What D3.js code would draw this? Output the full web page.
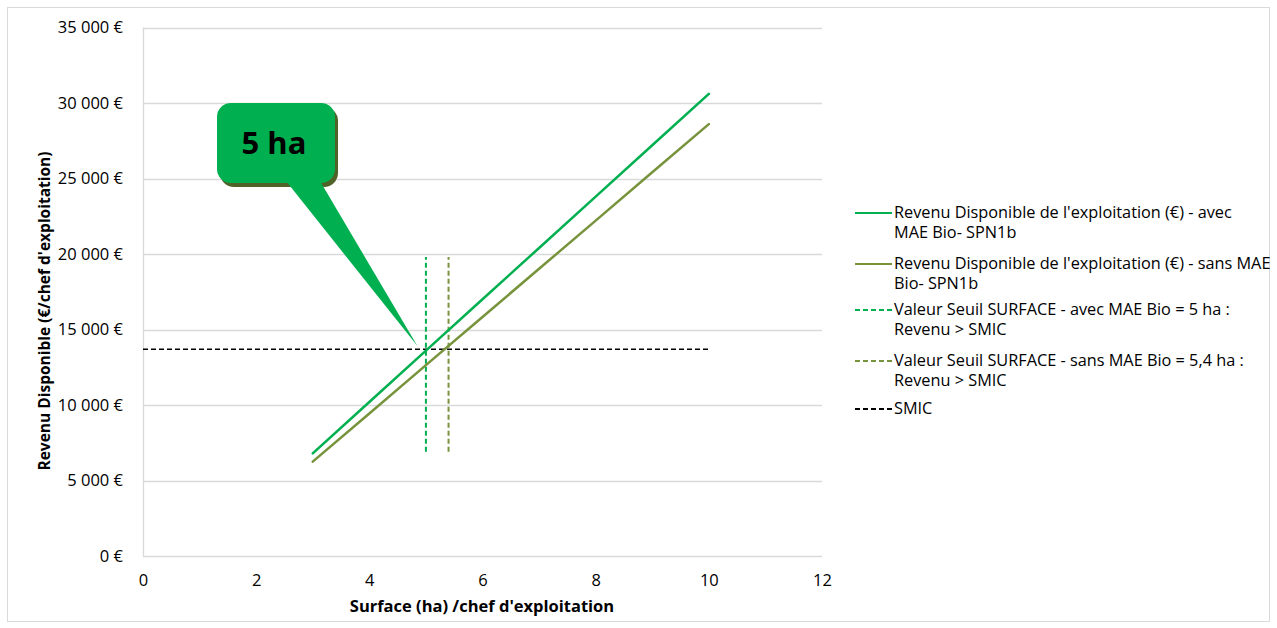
<!DOCTYPE html>
<html><head><meta charset="utf-8">
<script src="https://cdn.jsdelivr.net/npm/d3@7"></script>
<style>
body{margin:0;background:#fff;}
svg text{font-family:"Open Sans","Noto Sans",sans-serif;}
</style></head>
<body><svg id="c" width="1277" height="628"></svg>
<script>
const surfaces = [3,4,5,6,7,8,9,10];
const revenuAvec = [6800,10200,13600,17000,20400,23800,27200,30600];
const revenuSans = [6250,9440,12640,15830,19020,22210,25410,28600];
const seuilAvec = [{x:5,y:6900},{x:5,y:19800}];
const seuilSans = [{x:5.4,y:6900},{x:5.4,y:19800}];
const smic = [{x:0,y:13700},{x:10,y:13700}];
const xTicks = [0,2,4,6,8,10,12];
const yTicks = [0,5000,10000,15000,20000,25000,30000,35000];
const legendLabels = [
 ["Revenu Disponible de l'exploitation (€) - avec","MAE Bio- SPN1b"],
 ["Revenu Disponible de l'exploitation (€) - sans MAE","Bio- SPN1b"],
 ["Valeur Seuil SURFACE - avec MAE Bio = 5 ha :","Revenu > SMIC"],
 ["Valeur Seuil SURFACE - sans MAE Bio = 5,4 ha :","Revenu > SMIC"],
 ["SMIC"]
];
const callout = {label:"5 ha", x:4.85, y:13900};

const svg = d3.select("#c");
svg.append("rect").attr("x",7.5).attr("y",7.5).attr("width",1262).attr("height",614)
  .attr("fill","#fff").attr("stroke","#d9d9d9");

const x = d3.scaleLinear().domain([0,12]).range([143,822]);
const y = d3.scaleLinear().domain([0,35000]).range([556,27.5]);

svg.append("g").selectAll("line").data(yTicks).join("line")
  .attr("x1",x(0)).attr("x2",x(12)).attr("y1",d=>Math.round(y(d))+0.5).attr("y2",d=>Math.round(y(d))+0.5)
  .attr("stroke","#d9d9d9").attr("stroke-width",1.3);
svg.append("line").attr("x1",x(0)+0.5).attr("x2",x(0)+0.5).attr("y1",y(35000)).attr("y2",y(0))
  .attr("stroke","#d9d9d9").attr("stroke-width",1.3);

const fmt = d => d3.format(",")(d).replace(/,/g," ") + " €";
const ya = svg.append("g").attr("transform",`translate(${x(0)},0)`)
  .call(d3.axisLeft(y).tickValues(yTicks).tickFormat(fmt).tickSize(0).tickPadding(20));
ya.select(".domain").remove();
ya.selectAll("text").attr("font-size",16.5).attr("fill","#000").attr("font-family","Open Sans");

const xa = svg.append("g").attr("transform",`translate(0,${y(0)})`)
  .call(d3.axisBottom(x).tickValues(xTicks).tickFormat(d3.format("d")).tickSize(0).tickPadding(18));
xa.select(".domain").remove();
xa.selectAll("text").attr("font-size",16.5).attr("fill","#000").attr("font-family","Open Sans");

svg.append("text").attr("x",482).attr("y",612).attr("text-anchor","middle")
  .attr("font-size",16.5).attr("font-weight","bold").text("Surface (ha) /chef d'exploitation");
svg.append("text").attr("transform","translate(50,311) rotate(-90)").attr("text-anchor","middle")
  .attr("font-size",15.5).attr("font-weight","bold").text("Revenu Disponible (€/chef d'exploitation)");

const line = d3.line().x(d=>x(d.x)).y(d=>y(d.y));
const avec = surfaces.map((s,i)=>({x:s,y:revenuAvec[i]}));
const sans = surfaces.map((s,i)=>({x:s,y:revenuSans[i]}));

svg.append("path").datum(smic).attr("d",line).attr("fill","none").attr("stroke","#000")
  .attr("stroke-width",1.5).attr("stroke-dasharray","5,3");
svg.append("path").datum(seuilAvec).attr("d",line).attr("fill","none").attr("stroke","#00B050")
  .attr("stroke-width",2).attr("stroke-dasharray","5,3");
svg.append("path").datum(seuilSans).attr("d",line).attr("fill","none").attr("stroke","#77933C")
  .attr("stroke-width",2).attr("stroke-dasharray","5,3");
svg.append("path").datum(sans).attr("d",line).attr("fill","none").attr("stroke","#77933C")
  .attr("stroke-width",2.5).attr("stroke-linecap","round");
svg.append("path").datum(avec).attr("d",line).attr("fill","none").attr("stroke","#00B050")
  .attr("stroke-width",2.5).attr("stroke-linecap","round");

// callout
const tipX = x(callout.x), tipY = y(callout.y);
const bx=217, by=103, bw=118, bh=80, r=14;
const g = svg.append("g");
const bubble = (dx,dy,fill)=>{
  g.append("rect").attr("x",bx+dx).attr("y",by+dy).attr("width",bw).attr("height",bh).attr("rx",r)
    .attr("fill",fill);
};
bubble(3,4,"#4F6228");
g.append("path").attr("d",`M${286},${by+bh-2} L${tipX},${tipY} L${320},${by+bh-2} Z`).attr("fill","#00B050");
bubble(0,0,"#00B050");
g.append("text").attr("x",bx+bw/2-2).attr("y",by+bh/2+11).attr("text-anchor","middle")
  .attr("font-size",31).attr("font-weight","bold").attr("fill","#000").text(callout.label);

// legend
const legStyles = [
 {c:"#00B050",d:null},{c:"#77933C",d:null},{c:"#00B050",d:"5,3"},{c:"#77933C",d:"5,3"},{c:"#000",d:"5,3"}
];
const legY = [213,264,310,361,409];
const lg = svg.append("g");
legendLabels.forEach((lines,i)=>{
  const yy = legY[i];
  lg.append("line").attr("x1",855).attr("x2",892).attr("y1",yy).attr("y2",yy)
    .attr("stroke",legStyles[i].c).attr("stroke-width",2).attr("stroke-dasharray",legStyles[i].d);
  lines.forEach((t,j)=>{
    lg.append("text").attr("x",894).attr("y",yy+5+j*20).attr("font-size",16.3).attr("fill","#000").text(t);
  });
});
</script></body></html>
